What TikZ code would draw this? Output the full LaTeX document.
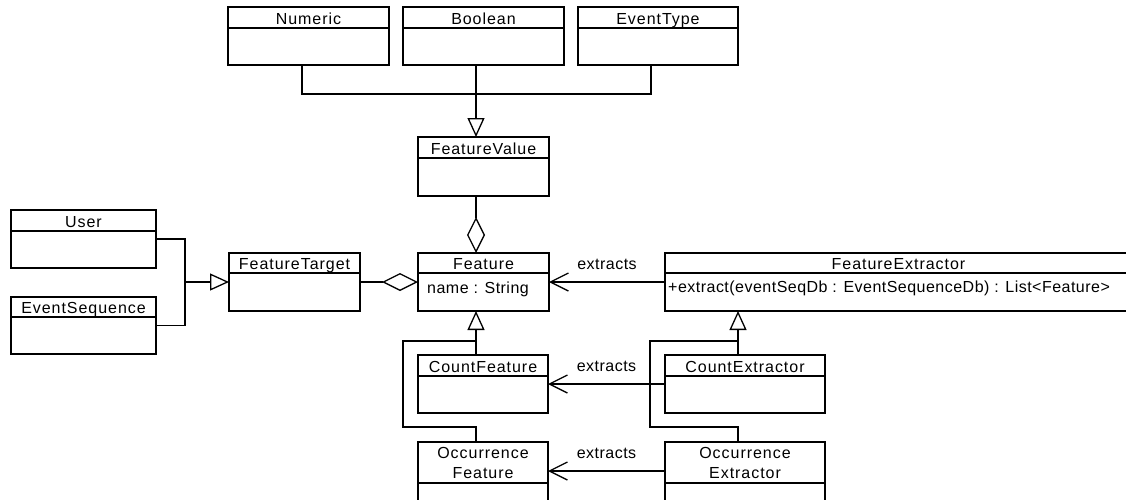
\documentclass[tikz,border=0pt]{standalone}
\usepackage{fontspec}
\setmainfont{Liberation Sans}
\newfontfamily\hdfont[LetterSpace=6]{Liberation Sans}
\newfontfamily\bdfont[LetterSpace=3]{Liberation Sans}
\usetikzlibrary{arrows.meta,calc}

\tikzset{
  classbox/.style={draw, line width=1.3pt, inner sep=0pt, outer sep=0pt, anchor=north west},
  classrule/.style={line width=1.3pt},
  titletext/.style={font=\hdfont\fontsize{16}{20}\selectfont, inner sep=0pt, anchor=base},
  bodytext/.style={font=\bdfont\fontsize{16}{20}\selectfont, inner sep=0pt, anchor=base west},
  link/.style={line width=1.3pt},
  gen/.style={link, -{Triangle[open, length=19pt, width=17pt, line width=1.3pt]}},
  agg/.style={link, -{Diamond[open, length=36pt, width=18pt, line width=1.3pt]}},
  dep/.style={link, -{Straight Barb[length=18pt, width=18pt, line width=1.3pt]}},
  lbl/.style={font=\bdfont\fontsize{16}{20}\selectfont, inner sep=0pt, anchor=base, yshift=13pt},
}

% class box: name, left, top, right, bottom, header rule, title
\newcommand{\umlclass}[7]{%
  \node[classbox, minimum width={(#4-#2)*1pt}, minimum height={(#5-#3)*1pt}] (#1) at (#2,#3) {};
  \draw[classrule] (#2,#6) -- (#4,#6);
  \node[titletext] (#1-title) at ({(#2+#4)/2},{#6-3.5}) {#7};
}
% class box with a two-line title
\newcommand{\umlclasstwo}[7]{%
  \node[classbox, minimum width={(#4-#2)*1pt}, minimum height={(#5-#3)*1pt}] (#1) at (#2,#3) {};
  \draw[classrule] (#2,#6) -- (#4,#6);
  \node[titletext, anchor=center, align=center] (#1-title) at ({(#2+#4)/2},{(#3+#6)/2+0.5}) {#7};
}

\begin{document}
\begin{tikzpicture}[x=1pt, y=-1pt]
\useasboundingbox (0,0) rectangle (1126,499);

% value types
\umlclass{numeric}{228}{7}{389}{65}{28}{Numeric}
\umlclass{boolean}{403}{7}{564}{65}{28}{Boolean}
\umlclass{eventtype}{578}{7}{738}{65}{28}{EventType}
\umlclass{featurevalue}{418}{137}{549}{196}{158}{FeatureValue}

% targets
\umlclass{user}{11}{210}{156}{268}{231}{User}
\umlclass{eventseq}{11}{297}{156}{354}{317}{EventSequence}
\umlclass{featuretarget}{229}{253}{360}{311}{273}{FeatureTarget}

% features
\umlclass{feature}{418}{253}{549}{311}{273}{Feature}
\node[bodytext] (feature-attr) at (427,293) {name : String};
\umlclass{countfeature}{418}{355}{548}{413}{376}{CountFeature}
\umlclasstwo{occfeature}{418}{442}{548}{506}{483}{Occurrence\\Feature}

% extractors
\umlclass{featureextractor}{665}{253}{1132}{311}{273}{FeatureExtractor}
\node[bodytext] (featureextractor-op) at (668,292) {+extract(eventSeqDb : EventSequenceDb) : List<Feature>};
\umlclass{countextractor}{665}{355}{825}{413}{376}{CountExtractor}
\umlclasstwo{occextractor}{665}{442}{825}{506}{483}{Occurrence\\Extractor}

% value type generalization
\coordinate (vj) at (476,94);
\draw[link] ([xshift=-6.5pt]numeric.south) |- (vj);
\draw[link] ([xshift=-7pt]eventtype.south) |- (vj);
\draw[gen] ([xshift=-7.5pt]boolean.south) -- ([xshift=-7.5pt]featurevalue.north);

% aggregations into Feature
\draw[agg] ([xshift=-7.5pt]featurevalue.south) -- ([xshift=-7.5pt]featurevalue.south |- feature.north);
\draw[agg] (featuretarget.east) -- (feature.west);

% target generalization
\coordinate (uj) at (185,282);
\draw[link] (user.east) -| (uj);
\draw[link] (eventseq.east) -| (uj);
\draw[gen] (uj) -- (featuretarget.west);

% feature generalization
\coordinate (fa) at (403,427);
\coordinate (fb) at (476,341);
\draw[gen] ([xshift=-7pt]countfeature.north) -- ([xshift=-7pt]countfeature.north |- feature.south);
\draw[link] ([xshift=-7pt]occfeature.north) |- (fa) |- (fb);

% extractor generalization
\coordinate (ea) at (650,427);
\coordinate (eb) at (738,341);
\draw[gen] ([xshift=-7pt]countextractor.north) -- ([xshift=-7pt]countextractor.north |- featureextractor.south);
\draw[link] ([xshift=-7pt]occextractor.north) |- (ea) |- (eb);

% extraction dependencies
\draw[dep] (featureextractor.west) -- (feature.east) node[lbl, midway] (x1) {extracts};
\draw[dep] (countextractor.west) -- (countfeature.east) node[lbl, midway] (x2) {extracts};
\draw[dep] ([yshift=-29pt]occextractor.north west) -- ([yshift=-29pt]occfeature.north east) node[lbl, midway] (x3) {extracts};
\end{tikzpicture}
\end{document}
